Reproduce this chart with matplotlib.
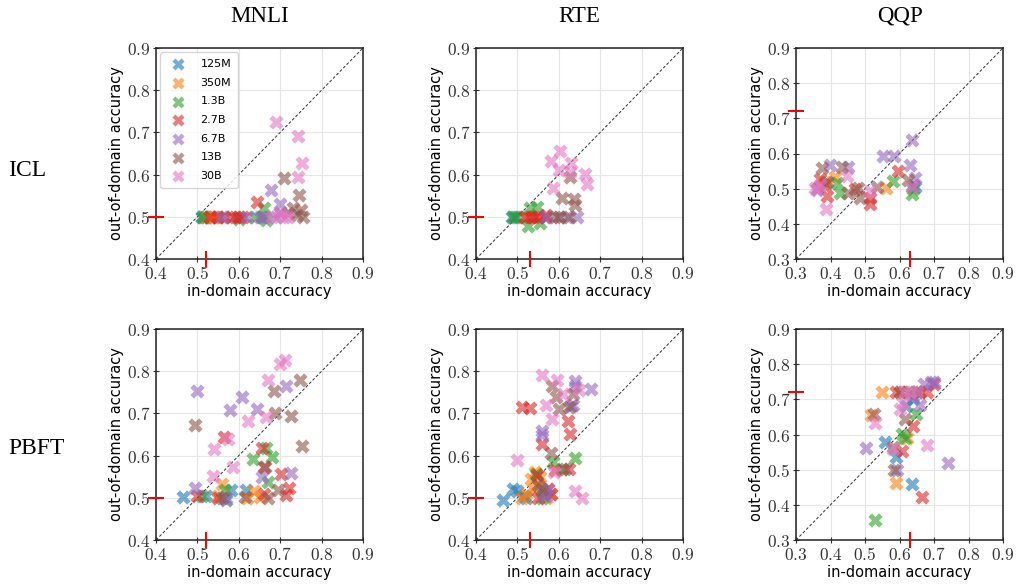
import numpy as np
import matplotlib
matplotlib.use('Agg')
import matplotlib.pyplot as plt
from matplotlib.ticker import FuncFormatter

plt.rcParams['mathtext.fontset'] = 'cm'

models = ['125M', '350M', '1.3B', '2.7B', '6.7B', '13B', '30B']
colors = ['tab:blue', 'tab:orange', 'tab:green', 'tab:red', 'tab:purple', 'tab:brown', 'tab:pink']
tasks = ['MNLI', 'RTE', 'QQP']
methods = ['ICL', 'PBFT']

# red marks: majority-class baseline (in-domain, out-of-domain)
baseline_x = [0.52, 0.53, 0.63]
baseline_y = [0.50, 0.50, 0.72]
axis_lo = [0.4, 0.4, 0.3]

# ---- ICL ----
mnli_icl_x = [[0.51, 0.52, 0.53, 0.515],
              [0.52, 0.53, 0.54, 0.55, 0.535],
              [0.51, 0.60, 0.66, 0.655, 0.665, 0.64],
              [0.53, 0.55, 0.58, 0.59, 0.60, 0.61, 0.643, 0.565],
              [0.56, 0.62, 0.65, 0.66, 0.677, 0.70, 0.70, 0.69],
              [0.71, 0.746, 0.73, 0.75, 0.74, 0.72, 0.755],
              [0.691, 0.742, 0.752, 0.742, 0.70, 0.72, 0.68, 0.71]]
mnli_icl_y = [[0.5, 0.5, 0.5, 0.5],
              [0.5, 0.5, 0.5, 0.5, 0.5],
              [0.5, 0.495, 0.52, 0.5, 0.493, 0.5],
              [0.5, 0.5, 0.5, 0.5, 0.5, 0.5, 0.534, 0.5],
              [0.5, 0.5, 0.5, 0.5, 0.564, 0.53, 0.51, 0.5],
              [0.591, 0.552, 0.52, 0.515, 0.505, 0.51, 0.5],
              [0.724, 0.692, 0.627, 0.595, 0.51, 0.5, 0.5, 0.5]]

rte_icl_x = [[0.486, 0.495],
             [0.52, 0.535, 0.55],
             [0.53, 0.547, 0.526, 0.554, 0.50, 0.49],
             [0.518, 0.53, 0.54, 0.55, 0.566, 0.57],
             [0.57, 0.60, 0.62, 0.645],
             [0.607, 0.636, 0.638, 0.60, 0.625, 0.626, 0.59],
             [0.602, 0.582, 0.60, 0.63, 0.626, 0.664, 0.667, 0.587]]
rte_icl_y = [[0.5, 0.5],
             [0.5, 0.5, 0.5],
             [0.52, 0.524, 0.479, 0.485, 0.5, 0.5],
             [0.5, 0.5, 0.5, 0.5, 0.5, 0.505],
             [0.5, 0.5, 0.5, 0.5],
             [0.544, 0.542, 0.528, 0.5, 0.5, 0.595, 0.5],
             [0.655, 0.633, 0.61, 0.627, 0.607, 0.601, 0.578, 0.568]]

qqp_icl_x = [[0.644, 0.36],
             [0.562, 0.413, 0.385],
             [0.58, 0.637, 0.64, 0.427, 0.42],
             [0.597, 0.514, 0.514, 0.39, 0.369, 0.47, 0.38],
             [0.636, 0.553, 0.583, 0.63, 0.398, 0.451, 0.644, 0.64],
             [0.374, 0.432, 0.48, 0.535, 0.485, 0.451, 0.625, 0.39],
             [0.355, 0.36, 0.387, 0.448, 0.514, 0.635, 0.37]]
qqp_icl_y = [[0.506, 0.50],
             [0.501, 0.534, 0.52],
             [0.522, 0.484, 0.50, 0.487, 0.515],
             [0.549, 0.473, 0.457, 0.478, 0.528, 0.50, 0.51],
             [0.638, 0.594, 0.594, 0.568, 0.568, 0.563, 0.53, 0.51],
             [0.558, 0.563, 0.501, 0.506, 0.473, 0.487, 0.525, 0.52],
             [0.501, 0.495, 0.442, 0.535, 0.492, 0.506, 0.51]]

# ---- PBFT ----
mnli_pbft_x = [[0.465, 0.52, 0.581, 0.617, 0.569],
               [0.559, 0.637, 0.651, 0.55, 0.62],
               [0.635, 0.679, 0.666, 0.671, 0.567, 0.51],
               [0.565, 0.655, 0.661, 0.703, 0.722, 0.714, 0.66, 0.50, 0.55],
               [0.499, 0.607, 0.579, 0.645, 0.714, 0.657, 0.725, 0.495, 0.57],
               [0.495, 0.748, 0.685, 0.687, 0.725, 0.752, 0.663, 0.695, 0.615, 0.67, 0.56],
               [0.699, 0.711, 0.671, 0.666, 0.623, 0.573, 0.541, 0.585, 0.537]]
mnli_pbft_y = [[0.501, 0.505, 0.519, 0.519, 0.495],
               [0.532, 0.515, 0.503, 0.505, 0.50],
               [0.591, 0.596, 0.618, 0.538, 0.519, 0.505],
               [0.643, 0.619, 0.574, 0.557, 0.523, 0.507, 0.51, 0.505, 0.50],
               [0.752, 0.74, 0.709, 0.71, 0.766, 0.549, 0.558, 0.524, 0.50],
               [0.673, 0.78, 0.752, 0.70, 0.695, 0.623, 0.574, 0.519, 0.503, 0.50, 0.50],
               [0.817, 0.826, 0.78, 0.691, 0.681, 0.639, 0.615, 0.574, 0.552]]

rte_pbft_x = [[0.466, 0.49, 0.498, 0.515, 0.52],
              [0.542, 0.532, 0.55, 0.54, 0.52, 0.51, 0.555, 0.57, 0.58],
              [0.586, 0.638, 0.607, 0.546, 0.565, 0.56],
              [0.51, 0.53, 0.622, 0.628, 0.559, 0.59, 0.624, 0.548, 0.575, 0.58, 0.55],
              [0.638, 0.638, 0.678, 0.63, 0.635, 0.56, 0.56, 0.565, 0.57, 0.575],
              [0.584, 0.594, 0.60, 0.634, 0.624, 0.58, 0.616, 0.56, 0.55],
              [0.559, 0.595, 0.61, 0.57, 0.584, 0.50, 0.648, 0.638, 0.656, 0.588]]
rte_pbft_y = [[0.495, 0.52, 0.515, 0.505, 0.50],
              [0.562, 0.544, 0.53, 0.52, 0.51, 0.50, 0.55, 0.50, 0.51],
              [0.586, 0.595, 0.569, 0.556, 0.51, 0.50],
              [0.715, 0.712, 0.683, 0.651, 0.628, 0.565, 0.569, 0.554, 0.52, 0.51, 0.50],
              [0.777, 0.765, 0.757, 0.718, 0.72, 0.659, 0.65, 0.51, 0.505, 0.52],
              [0.764, 0.739, 0.71, 0.745, 0.715, 0.607, 0.569, 0.52, 0.53],
              [0.792, 0.78, 0.747, 0.72, 0.686, 0.59, 0.755, 0.517, 0.50, 0.562]]

qqp_pbft_x = [[0.636, 0.559, 0.591, 0.62, 0.64],
              [0.548, 0.589, 0.622, 0.516, 0.60],
              [0.528, 0.649, 0.606, 0.615, 0.63, 0.65],
              [0.666, 0.606, 0.638, 0.59, 0.68, 0.70, 0.66],
              [0.504, 0.742, 0.593, 0.692, 0.70, 0.67, 0.64, 0.659],
              [0.525, 0.616, 0.58, 0.585, 0.60, 0.625, 0.65],
              [0.528, 0.601, 0.681, 0.58, 0.63, 0.615, 0.65, 0.61]]
qqp_pbft_y = [[0.459, 0.58, 0.537, 0.68, 0.70],
              [0.72, 0.463, 0.59, 0.656, 0.72],
              [0.357, 0.658, 0.601, 0.59, 0.72, 0.72],
              [0.423, 0.554, 0.623, 0.72, 0.72, 0.745, 0.72],
              [0.561, 0.518, 0.498, 0.75, 0.75, 0.745, 0.71, 0.685],
              [0.658, 0.644, 0.565, 0.50, 0.72, 0.72, 0.72],
              [0.632, 0.672, 0.569, 0.56, 0.72, 0.72, 0.72, 0.69]]

data_x = [[mnli_icl_x, rte_icl_x, qqp_icl_x], [mnli_pbft_x, rte_pbft_x, qqp_pbft_x]]
data_y = [[mnli_icl_y, rte_icl_y, qqp_icl_y], [mnli_pbft_y, rte_pbft_y, qqp_pbft_y]]

W, H = 1016, 586
fig = plt.figure(figsize=(W / 100, H / 100), dpi=100)

col_left = [156, 476, 796]
row_top = [48, 329]
aw, ah = 207, 211

tick_fmt = FuncFormatter(lambda v, p: r'$%.1f$' % v)

for r in range(2):
    for c in range(3):
        ax = fig.add_axes([col_left[c] / W, 1 - (row_top[r] + ah) / H, aw / W, ah / H])
        lo = axis_lo[c]
        hi = 0.9
        ax.set_xlim(lo, hi)
        ax.set_ylim(lo, hi)
        ticks = np.round(np.arange(lo, hi + 0.001, 0.1), 1)
        ax.set_xticks(ticks)
        ax.set_yticks(ticks)
        ax.xaxis.set_major_formatter(tick_fmt)
        ax.yaxis.set_major_formatter(tick_fmt)
        ax.tick_params(direction='inout', length=5, width=0.8, labelsize=12.5, pad=1.5, colors='#333333')
        ax.grid(True, color='#e6e6e6', lw=0.8)
        ax.set_axisbelow(True)
        for s in ax.spines.values():
            s.set_linewidth(1.1)
            s.set_color('#222222')
        ax.plot([lo, hi], [lo, hi], ls=(0, (3, 2)), color='#333333', lw=0.7, zorder=1)
        for m in range(len(models)):
            ax.scatter(data_x[r][c][m], data_y[r][c][m], marker='X', s=105, color=colors[m],
                       alpha=0.6, linewidths=0, label=models[m], zorder=3)
        ax.plot([baseline_x[c]], [lo], marker='|', ms=11, mew=1.5, color='red', clip_on=False, zorder=5)
        ax.plot([lo], [baseline_y[c]], marker='_', ms=11, mew=1.5, color='red', clip_on=False, zorder=5)
        ax.set_xlabel('in-domain accuracy', fontsize=10.5, labelpad=1)
        ax.set_ylabel('out-of-domain accuracy', fontsize=10.5, labelpad=2)
        if r == 0 and c == 0:
            leg = ax.legend(loc='upper left', fontsize=8, handletextpad=1.0, borderpad=0.6,
                            labelspacing=0.78, borderaxespad=0.4, framealpha=0.8, markerscale=0.85)
            for h in leg.legend_handles:
                h.set_alpha(0.6)
        if r == 0:
            fig.text((col_left[c] + aw / 2) / W, 1 - 16 / H, tasks[c], ha='center', va='center',
                     fontsize=16.5, family='Liberation Serif')

fig.text(8 / W, 1 - 170 / H, 'ICL', ha='left', va='center', fontsize=17, family='Liberation Serif')
fig.text(8 / W, 1 - 449 / H, 'PBFT', ha='left', va='center', fontsize=17, family='Liberation Serif')

fig.savefig('out.png', dpi=100)
